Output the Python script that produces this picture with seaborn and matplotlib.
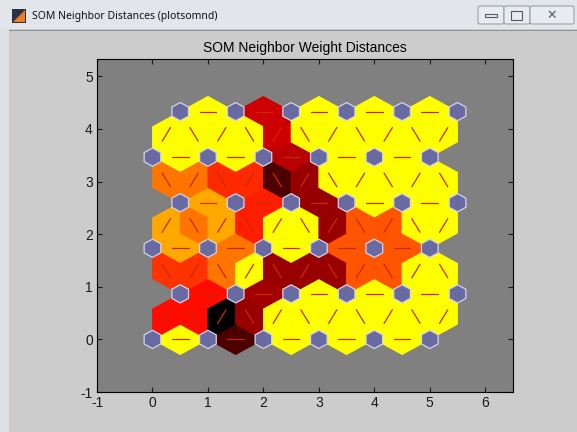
import numpy as np
import pandas as pd
import matplotlib
matplotlib.use('Agg')
import matplotlib.pyplot as plt
import seaborn as sns
from matplotlib.patches import Rectangle, Polygon, FancyBboxPatch
from matplotlib.collections import PolyCollection
from matplotlib.colors import LinearSegmentedColormap

# SOM grid (hextop 6x6)
n_cols = 6
n_rows = 6

# normalised neighbour distances, 0 = close (yellow) ... 1 = far (black)
# horizontal edges of each row, left to right
row0_h = [0.0, 0.85, 0.0, 0.0, 0.0]
row1_h = [0.48, 0.68, 0.0, 0.0, 0.0]
row2_h = [0.17, 0.27, 0.0, 0.335, 0.335]
row3_h = [0.17, 0.44, 0.70, 0.0, 0.0]
row4_h = [0.0, 0.0, 0.64, 0.0, 0.0]
row5_h = [0.0, 0.60, 0.0, 0.0, 0.0]
# diagonal edges between row j and row j+1, left to right
band01 = [0.48, 0.48, 1.0, 0.70, 0.0, 0.0, 0.0, 0.0, 0.0, 0.0, 0.0]
band12 = [0.40, 0.40, 0.27, 0.0, 0.70, 0.70, 0.70, 0.335, 0.335, 0.0, 0.0]
band23 = [0.17, 0.27, 0.17, 0.44, 0.0, 0.0, 0.70, 0.335, 0.335, 0.0, 0.0]
band34 = [0.27, 0.27, 0.42, 0.42, 0.85, 0.70, 0.0, 0.0, 0.0, 0.0, 0.0]
band45 = [0.0, 0.0, 0.0, 0.0, 0.60, 0.0, 0.0, 0.0, 0.0, 0.0, 0.0]

rows_h = [row0_h, row1_h, row2_h, row3_h, row4_h, row5_h]
bands = [band01, band12, band23, band34, band45]

x_ticks = [-1, 0, 1, 2, 3, 4, 5, 6]
y_ticks = [-1, 0, 1, 2, 3, 4, 5]

dy = np.sqrt(3) / 2


def ypos(j):
    return j * dy


neurons = [(i + 0.5 * (j % 2), ypos(j)) for j in range(n_rows) for i in range(n_cols)]

edges = []
for j, vals in enumerate(rows_h):
    off = 0.5 * (j % 2)
    for k, d in enumerate(vals):
        edges.append(((k + off, ypos(j)), (k + 1 + off, ypos(j)), d))
for j, vals in enumerate(bands):
    even_row = j if j % 2 == 0 else j + 1
    odd_row = j + 1 if j % 2 == 0 else j
    for k, d in enumerate(vals):
        x1, x2 = 0.5 * k, 0.5 * k + 0.5
        xi, xh = (x1, x2) if k % 2 == 0 else (x2, x1)
        edges.append(((xi, ypos(even_row)), (xh, ypos(odd_row)), d))

cmap = LinearSegmentedColormap.from_list('somnd', ['#ffff00', '#ff0000', '#000000'])

apo = 0.15                    # neuron hexagon apothem
rad = apo / np.cos(np.pi / 6)
hh = np.sqrt(3) / 6           # triangle centroid offset

edge_polys, edge_cols, seg_rows = [], [], []
for n, (a, b, d) in enumerate(edges):
    a, b = np.array(a), np.array(b)
    u = (b - a) / np.linalg.norm(b - a)
    v = np.array([-u[1], u[0]])
    m = (a + b) / 2
    edge_polys.append([a + apo * u + rad / 2 * v, m + hh * v, b - apo * u + rad / 2 * v,
                       b - apo * u - rad / 2 * v, m - hh * v, a + apo * u - rad / 2 * v])
    edge_cols.append(cmap(d))
    for s in (-0.15, 0.15):
        p = m + s * u
        seg_rows.append({'x': p[0], 'y': p[1], 'seg': n})

ang = np.deg2rad(np.arange(30, 390, 60))
neuron_polys = [np.column_stack([x + rad * np.cos(ang), y + rad * np.sin(ang)]) for x, y in neurons]

sns.set_theme(style='ticks')
plt.rcParams['font.family'] = ['Liberation Sans', 'DejaVu Sans']
plt.rcParams['axes.unicode_minus'] = False

fig = plt.figure(figsize=(5.77, 4.32), dpi=100, facecolor='#cccccc')

# window chrome
H = 432.0
fig.add_artist(Rectangle((0, 1 - 29 / H), 1, 29 / H, transform=fig.transFigure,
                         facecolor='#e2e6eb', edgecolor='none'))
fig.add_artist(Rectangle((0, 0), 9 / 577, 1 - 29 / H, transform=fig.transFigure,
                         facecolor='#dde1e6', edgecolor='none'))
fig.add_artist(Rectangle((9 / 577, 1 - 31 / H), 1, 1.5 / H, transform=fig.transFigure,
                         facecolor='#8e9296', edgecolor='none'))
fig.add_artist(Rectangle((12 / 577, 1 - 23 / H), 14 / 577, 14 / H, transform=fig.transFigure,
                         facecolor='#2a3344', edgecolor='none'))
fig.add_artist(Polygon([(13 / 577, 1 - 22 / H), (25 / 577, 1 - 10 / H), (25 / 577, 1 - 22 / H)],
                       transform=fig.transFigure, facecolor='#f07a20', edgecolor='none'))
fig.text(32 / 577, 1 - 16 / H, 'SOM Neighbor Distances (plotsomnd)', fontsize=7.5,
         family=['Noto Sans', 'DejaVu Sans'], va='center', ha='left', color='#111111')
for x0, w in [(478, 26), (504, 26), (530, 44)]:
    fig.add_artist(FancyBboxPatch((x0 / 577, 1 - 24 / H), w / 577, 18 / H,
                                  boxstyle='round,pad=0,rounding_size=0.004',
                                  transform=fig.transFigure, facecolor='#e8ecf0',
                                  edgecolor='#9aa0a8', lw=0.8))
fig.add_artist(Rectangle((485 / 577, 1 - 17 / H), 12 / 577, 3 / H, transform=fig.transFigure,
                         facecolor='none', edgecolor='#555a60', lw=0.8))
fig.add_artist(Rectangle((511 / 577, 1 - 20 / H), 11 / 577, 9 / H, transform=fig.transFigure,
                         facecolor='none', edgecolor='#555a60', lw=0.8))
fig.text(552 / 577, 1 - 15 / H, '✕', fontsize=9, ha='center', va='center', color='#555a60',
         family=['DejaVu Sans'])

ax = fig.add_axes([97 / 577, 40 / H, 416 / 577, 333 / H])
ax.set_facecolor('#808080')

ax.add_collection(PolyCollection(edge_polys, facecolors=edge_cols, edgecolors=edge_cols,
                                 linewidths=0.6, zorder=1))
seg_df = pd.DataFrame(seg_rows)
sns.lineplot(data=seg_df, x='x', y='y', units='seg', estimator=None, sort=False,
             color='#c82a00', lw=0.9, ax=ax, zorder=2, legend=False)
ax.add_collection(PolyCollection(neuron_polys, facecolors='#6a6aa2', edgecolors='#d4d4ea',
                                 linewidths=0.9, zorder=3))

ax.set_xlim(-1, n_cols + 0.5)
ax.set_ylim(-1, ypos(n_rows - 1) + 1)
ax.set_xticks(x_ticks)
ax.set_yticks(y_ticks)
ax.set_xlabel('')
ax.set_ylabel('')
ax.tick_params(direction='in', length=3.5, width=0.8, top=True, right=True,
               labelsize=10, colors='#1a1a1a', pad=3)
for sp in ax.spines.values():
    sp.set_visible(True)
    sp.set_color('black')
    sp.set_linewidth(0.8)
ax.set_title('SOM Neighbor Weight Distances', fontsize=10, pad=5, color='black')

fig.savefig('out.png', dpi=100, facecolor=fig.get_facecolor())
